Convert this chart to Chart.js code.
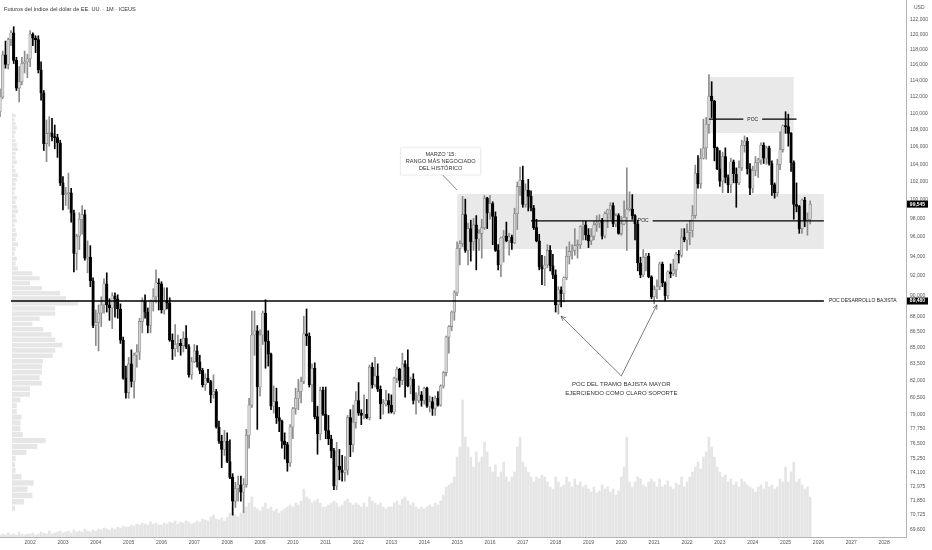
<!DOCTYPE html>
<html lang="es">
<head>
<meta charset="UTF-8">
<title>Futuros del índice del dólar de EE. UU. - 1M - ICEUS</title>
<script src="https://cdn.jsdelivr.net/npm/chart.js@4.4.0/dist/chart.umd.min.js"></script>
<style>
  html, body { margin: 0; padding: 0; background: #fff; }
  #wrap { width: 932px; height: 550px; }
</style>
</head>
<body>
<div id="wrap"><canvas id="dxy" width="932" height="550"></canvas></div>
<script>
// eje de meses: 2001-02 .. 2028-09 (el gráfico deja hueco a la derecha)
const months = [];
for (let yr = 2001; yr <= 2028; yr++) {
  for (let m = 1; m <= 12; m++) {
    if (yr === 2001 && m < 2) continue;
    if (yr === 2028 && m > 9) break;
    months.push(yr + '-' + String(m).padStart(2, '0'));
  }
}

// velas mensuales (feb 2001 - oct 2025)
const open = [
  110.2,112.0,117.3,116.1,119.3,120.2,116.6,113.1,113.9,116.2,116.4,
  116.8,120.0,119.5,119.3,115.4,112.5,106.4,107.6,107.6,107.2,107.1,106.5,
  101.9,100.6,100.7,100.8,98.6,94.3,96.1,97.9,98.4,93.8,93.9,91.5,
  87.1,87.4,88.3,89.1,91.2,89.1,88.8,90.0,89.7,88.7,85.7,82.2,
  80.9,83.5,81.9,84.3,84.6,87.5,89.5,88.4,87.1,89.4,89.9,91.3,
  91.2,88.6,89.5,89.3,85.7,84.9,85.3,85.4,85.2,85.9,85.1,82.5,
  83.7,84.7,83.7,82.9,81.6,82.2,81.9,80.7,81.0,77.9,76.7,76.0,
  76.7,75.0,73.7,71.8,72.8,73.1,72.5,73.1,77.2,79.8,86.2,86.6,
  81.4,86.2,88.3,85.6,84.4,79.7,80.1,78.7,78.4,76.7,76.4,74.9,
  77.9,79.5,80.4,81.0,81.9,86.3,86.1,81.6,83.1,78.8,77.3,81.1,
  79.0,77.6,76.9,75.9,73.0,74.6,74.3,74.1,74.3,78.7,76.4,78.3,
  80.2,79.1,78.9,79.0,78.7,83.2,81.6,82.4,81.2,79.9,79.9,80.2,
  79.8,79.2,82.2,83.0,82.0,83.5,83.2,81.5,82.1,80.2,80.2,80.7,
  80.2,81.3,79.7,80.1,79.5,80.4,79.8,81.5,82.7,86.0,87.0,88.4,
  90.3,94.8,95.3,98.4,94.6,96.9,95.5,97.3,95.8,96.4,97.0,100.2,
  98.6,99.6,98.2,94.6,93.1,95.9,96.1,95.6,96.0,95.4,98.5,101.5,
  102.2,99.5,101.1,100.4,99.1,97.0,95.6,92.9,92.7,93.1,94.6,93.0,
  92.1,89.1,90.6,90.2,91.8,94.0,94.5,94.6,95.1,95.2,97.1,97.3,
  96.2,95.6,96.1,97.3,97.5,97.8,96.1,98.5,98.9,99.4,97.4,98.3,
  96.4,97.4,98.1,99.0,99.0,98.3,97.4,93.3,92.1,93.9,94.0,91.9,
  89.9,90.6,90.9,93.2,91.3,90.0,92.4,92.2,92.6,94.2,94.1,96.0,
  95.7,96.5,96.7,98.3,103.0,101.8,104.7,105.9,108.7,112.1,111.5,105.9,
  103.5,102.1,104.9,102.5,101.7,104.3,102.9,101.9,103.6,106.2,106.7,103.5,
  101.3,103.3,104.2,104.5,106.2,104.7,105.9,104.1,101.7,100.8,104.0,105.7,
  108.5,108.4,107.6,104.2,99.5,99.3,96.9,100.0,97.8,97.9
];
const high = [
  113.0,117.8,119.1,119.5,120.5,121.0,117.0,115.8,117.0,117.8,117.4,
  120.5,120.2,119.8,119.8,116.4,112.8,109.2,109.6,109.4,108.6,107.5,106.8,
  102.6,101.4,103.0,101.3,98.9,96.3,98.6,99.4,98.9,95.6,95.1,91.8,
  88.6,89.1,89.9,91.7,92.3,89.7,90.3,90.3,90.1,89.2,86.0,83.3,
  84.1,84.8,84.5,85.3,87.8,89.8,90.1,88.8,89.6,90.7,92.6,91.7,
  91.4,90.8,90.8,89.8,86.3,87.2,86.2,85.8,86.5,87.1,85.3,84.1,
  85.3,85.2,84.3,83.1,82.6,83.0,82.0,82.5,81.2,78.4,77.2,77.6,
  77.4,76.8,74.0,73.3,73.8,73.8,73.6,77.7,80.4,88.5,88.5,87.1,
  86.7,88.5,89.6,86.6,84.5,81.5,81.3,79.6,78.5,77.4,76.6,78.1,
  79.6,81.3,82.1,82.3,88.0,88.7,86.4,83.5,83.6,79.7,81.4,81.4,
  81.4,78.9,77.2,76.1,76.6,76.0,75.5,75.4,78.9,79.4,79.8,81.0,
  81.8,79.4,80.7,80.3,83.4,83.6,84.1,83.5,81.5,80.3,81.1,80.8,
  80.7,82.3,83.2,83.1,84.5,83.8,84.8,82.3,82.6,80.9,81.5,81.0,
  81.4,81.4,80.6,80.5,80.6,81.0,81.6,82.8,86.1,87.1,88.5,90.5,
  95.5,95.6,100.4,100.1,97.5,97.8,98.0,98.3,96.8,97.9,100.5,100.3,
  100.5,99.8,98.7,95.2,96.0,96.7,97.6,96.4,96.2,99.1,102.0,103.7,
  103.8,101.8,102.3,101.0,99.4,97.9,96.3,94.1,94.0,95.2,95.1,94.2,
  92.6,90.9,90.9,91.9,95.0,95.5,95.2,96.9,95.7,97.2,97.7,97.7,
  96.9,96.9,97.7,98.3,98.4,98.0,98.7,99.0,99.7,99.7,98.5,98.5,
  98.2,99.9,103.6,100.9,100.6,98.4,97.8,93.9,94.7,94.3,94.3,92.0,
  91.0,91.6,93.4,93.4,91.4,92.5,93.2,93.7,94.4,94.6,96.9,96.9,
  97.4,97.8,99.4,103.9,105.0,105.8,109.3,109.5,114.8,113.9,111.6,106.0,
  105.6,105.4,105.9,102.8,104.7,104.5,103.6,104.4,106.8,107.3,107.1,104.1,
  103.8,104.9,104.7,106.5,106.5,106.1,106.1,104.4,101.9,104.6,107.8,108.6,
  110.2,109.9,107.7,104.4,101.9,99.4,100.1,100.3,98.6,99.9
];
const low = [
  109.6,111.8,115.6,115.5,118.5,116.2,112.8,111.4,113.5,115.0,114.4,
  115.8,118.5,117.6,115.0,111.6,105.6,104.3,106.1,106.7,105.8,104.8,101.6,
  98.9,99.4,99.0,97.6,92.4,92.6,94.7,96.3,93.6,92.3,90.9,86.9,
  85.2,84.7,87.0,88.3,88.4,87.6,86.8,87.9,87.8,85.4,82.1,80.4,
  80.4,81.4,80.4,83.2,83.9,86.4,87.8,86.4,86.4,88.5,89.3,88.6,
  88.3,88.2,88.7,85.6,83.9,84.2,84.6,84.3,84.6,84.9,82.3,82.1,
  83.6,83.2,82.6,81.4,81.1,81.8,80.0,80.4,77.8,76.5,74.5,75.5,
  74.9,73.6,70.7,71.3,71.8,71.8,70.9,72.9,76.1,79.6,84.3,77.7,
  80.6,85.3,83.1,83.3,79.4,79.1,78.2,77.5,76.1,75.2,74.2,74.6,
  76.9,79.0,79.4,80.0,81.7,85.2,81.4,80.1,78.6,75.6,76.8,78.9,
  76.9,76.4,75.3,72.7,72.7,73.5,73.4,73.4,73.9,75.4,75.8,77.8,
  78.9,78.1,78.6,78.6,78.5,81.3,81.4,81.0,78.6,79.0,79.7,79.1,
  79.1,79.0,81.8,81.4,81.6,80.5,81.4,80.8,79.9,79.0,80.0,79.7,
  79.9,79.6,79.2,78.9,78.9,79.7,79.7,81.3,82.4,84.5,86.6,87.6,
  90.0,93.1,95.0,94.4,93.1,93.5,94.6,92.6,94.6,93.8,96.8,96.9,
  97.9,95.2,94.5,92.6,91.9,93.4,95.5,94.1,94.7,95.3,96.8,100.5,
  99.2,99.2,98.8,98.8,96.8,95.5,92.6,91.1,91.0,92.8,92.5,91.7,
  88.4,88.2,88.9,89.4,91.6,93.2,93.7,94.1,93.8,94.8,95.7,95.7,
  94.9,95.2,95.7,96.6,97.0,95.8,95.9,97.0,97.9,97.1,97.1,96.3,
  96.2,97.3,94.6,98.8,97.9,95.7,92.5,91.8,91.9,92.5,91.8,89.7,
  89.2,89.7,90.6,90.9,89.5,89.7,91.8,92.0,91.9,93.3,93.9,95.5,
  94.6,95.2,96.0,98.0,101.3,101.3,104.6,104.6,107.6,109.5,104.4,103.4,
  101.5,100.8,101.9,100.8,100.8,101.9,99.2,101.7,103.3,105.4,102.9,100.6,
  100.8,102.7,102.5,104.0,104.1,104.0,103.9,100.5,100.2,100.4,103.4,105.4,
  107.6,106.1,103.2,97.9,98.7,96.4,96.4,97.1,96.2,97.4
];
const close = [
  112.0,117.3,116.1,119.3,120.2,116.6,113.1,113.9,116.2,116.4,116.8,
  120.0,119.5,119.3,115.4,112.5,106.4,107.6,107.6,107.2,107.1,106.5,101.9,
  100.6,100.7,100.8,98.6,94.3,96.1,97.9,98.4,93.8,93.9,91.5,87.1,
  87.4,88.3,89.1,91.2,89.1,88.8,90.0,89.7,88.7,85.7,82.2,80.9,
  83.5,81.9,84.3,84.6,87.5,89.5,88.4,87.1,89.4,89.9,91.3,91.2,
  88.6,89.5,89.3,85.7,84.9,85.3,85.4,85.2,85.9,85.1,82.5,83.7,
  84.7,83.7,82.9,81.6,82.2,81.9,80.7,81.0,77.9,76.7,76.0,76.7,
  75.0,73.7,71.8,72.8,73.1,72.5,73.1,77.2,79.8,86.2,86.6,81.4,
  86.2,88.3,85.6,84.4,79.7,80.1,78.7,78.4,76.7,76.4,74.9,77.9,
  79.5,80.4,81.0,81.9,86.3,86.1,81.6,83.1,78.8,77.3,81.1,79.0,
  77.6,76.9,75.9,73.0,74.6,74.3,74.1,74.3,78.7,76.4,78.3,80.2,
  79.1,78.9,79.0,78.7,83.2,81.6,82.4,81.2,79.9,79.9,80.2,79.8,
  79.2,82.2,83.0,82.0,83.5,83.2,81.5,82.1,80.2,80.2,80.7,80.2,
  81.3,79.7,80.1,79.5,80.4,79.8,81.5,82.7,86.0,87.0,88.4,90.3,
  94.8,95.3,98.4,94.6,96.9,95.5,97.3,95.8,96.4,97.0,100.2,98.6,
  99.6,98.2,94.6,93.1,95.9,96.1,95.6,96.0,95.4,98.5,101.5,102.2,
  99.5,101.1,100.4,99.1,97.0,95.6,92.9,92.7,93.1,94.6,93.0,92.1,
  89.1,90.6,90.2,91.8,94.0,94.5,94.6,95.1,95.2,97.1,97.3,96.2,
  95.6,96.1,97.3,97.5,97.8,96.1,98.5,98.9,99.4,97.4,98.3,96.4,
  97.4,98.1,99.0,99.0,98.3,97.4,93.3,92.1,93.9,94.0,91.9,89.9,
  90.6,90.9,93.2,91.3,90.0,92.4,92.2,92.6,94.2,94.1,96.0,95.7,
  96.5,96.7,98.3,103.0,101.8,104.7,105.9,108.7,112.1,111.5,105.9,103.5,
  102.1,104.9,102.5,101.7,104.3,102.9,101.9,103.6,106.2,106.7,103.5,101.3,
  103.3,104.2,104.5,106.2,104.7,105.9,104.1,101.7,100.8,104.0,105.7,108.5,
  108.4,107.6,104.2,99.5,99.3,96.9,100.0,97.8,97.9,99.545
];
// volumen mensual (miles de contratos, aprox.)
const volume = [
  4,6,4,8,4,6,4,10,6,4,6,
  6,8,4,6,10,8,6,12,6,8,10,12,
  8,10,12,8,14,10,12,10,16,12,10,14,
  12,16,14,18,16,14,18,16,20,18,22,20,
  20,24,22,26,24,28,26,24,30,26,28,24,
  24,28,26,30,28,32,26,30,28,32,30,26,
  28,32,30,36,34,32,40,44,36,34,38,32,
  40,48,60,44,40,48,52,60,68,80,60,56,
  52,60,68,56,60,52,56,48,52,56,60,64,
  60,68,64,72,96,80,76,68,72,76,68,60,
  60,64,68,72,68,60,64,72,76,68,64,68,
  64,60,68,60,80,72,68,64,68,60,56,60,
  60,68,72,64,76,80,72,64,68,60,56,60,
  56,60,64,60,68,64,72,84,100,104,108,120,
  160,180,274,200,180,160,140,170,150,160,190,170,
  140,130,144,120,130,150,120,110,120,130,180,200,
  150,140,130,120,110,120,116,124,120,110,100,96,
  120,110,100,104,120,110,100,116,104,110,100,104,
  96,90,100,88,92,104,96,100,90,96,84,92,
  120,140,200,110,100,110,120,116,104,100,110,116,
  110,100,116,100,104,112,100,96,108,104,120,100,
  110,120,130,140,150,136,160,170,200,180,160,140,
  130,120,124,110,116,104,110,100,116,110,104,100,
  96,90,100,104,96,110,100,104,96,100,116,110,
  140,110,130,150,110,116,104,96,100,80
];

// perfil de volumen (precio inferior de cada fila, paso 0,5)
const profileStep = 0.5;
const profileLevels = [
  71.0,71.5,72.0,72.5,73.0,73.5,74.0,74.5,75.0,75.5,76.0,76.5,77.0,77.5,78.0,78.5,79.0,79.5,
  80.0,80.5,81.0,81.5,82.0,82.5,83.0,83.5,84.0,84.5,85.0,85.5,86.0,86.5,87.0,87.5,88.0,88.5,
  89.0,89.5,90.0,90.5,91.0,91.5,92.0,92.5,93.0,93.5,94.0,94.5,95.0,95.5,96.0,96.5,97.0,97.5,
  98.0,98.5,99.0,99.5,100.0,100.5,101.0,101.5,102.0,102.5,103.0,103.5,104.0,104.5,105.0,105.5,
  106.0,106.5,107.0,107.5,108.0,108.5,109.0,109.5
];
const profileVolume = [
  2.5,10,17,13,18,8,3,2.5,3,12,21,28,9,7,7,8,4,4,
  7,15,15,25,23,25,25,26,34,36,42,36,33,26,17,23,36,36,
  55,45,40,25,15,23,17,5,3,4,2,3,5,3,4,3,2,4,
  3,5,4,3,4,2,3,3,4,5,3,2,4,3,3,5,
  4,3,2,3,4,3,2,3
];

const priceTicks = [122,120,118,116,114,112,110,108,106,104,102,100,98,96,94,92,90,88,86.5,85,83.5,82,80.5,79,77.75,76.5,75.25,74.1,72.975,71.85,70.725,69.6];

// dibujos del autor
const boxes = [
  { from: '2015-01', to: '2026-03', top: 100.66, bottom: 94.75 },
  { from: '2022-09', to: '2025-04', top: 114.5, bottom: 107.65 }
];
const pocLines = [
  { price: 89.48, from: '2001-06', to: '2026-03', width: 1.4, label: 'POC DESARROLLO BAJISTA' },
  { price: 97.72, from: '2017-04', to: '2026-03', width: 1.3, label: 'POC', labelAt: '2020-09' },
  { price: 109.3, from: '2022-09', to: '2025-05', width: 1.3, label: 'POC', labelAt: '2024-01' }
];
const priceTags = [ { price: 99.545, text: '99,545' }, { price: 89.48, text: '89,480' } ];
const noteMarzo = { at: '2014-07', price: 104.33, lines: ["MARZO '15:", 'RANGO MÁS NEGOCIADO', 'DEL HISTÓRICO'], target: '2015-01', targetPrice: 101.1 };
const noteSoporte = { at: '2020-01', price: 81.6, lines: ['POC DEL TRAMO BAJISTA MAYOR', 'EJERCIENDO COMO CLARO SOPORTE'],
  from: '2020-01', fromPrice: 82.4, targets: [ ['2018-03', 88.0], ['2021-02', 89.1] ] };

const FONT = '"Liberation Sans", Arial, sans-serif';
const up = close.map((c, i) => c >= open[i]);

function mx(scale, m) { return scale.getPixelForValue(months.indexOf(m)); }

function arrow(ctx, x0, y0, x1, y1) {
  ctx.beginPath();
  ctx.moveTo(x0, y0);
  ctx.lineTo(x1, y1);
  const a = Math.atan2(y1 - y0, x1 - x0), h = 5;
  ctx.moveTo(x1 - h * Math.cos(a - 0.45), y1 - h * Math.sin(a - 0.45));
  ctx.lineTo(x1, y1);
  ctx.lineTo(x1 - h * Math.cos(a + 0.45), y1 - h * Math.sin(a + 0.45));
  ctx.stroke();
}

const overlay = {
  id: 'overlay',
  beforeDatasetsDraw(chart) {
    const { ctx, scales: { x, y, xp } } = chart;
    ctx.save();
    ctx.fillStyle = '#e9e9e9';
    boxes.forEach(b => {
      const x0 = mx(x, b.from), x1 = mx(x, b.to);
      const y0 = y.getPixelForValue(b.top), y1 = y.getPixelForValue(b.bottom);
      ctx.fillRect(x0, y0, x1 - x0, y1 - y0);
    });
    ctx.fillStyle = '#e6e6e6';
    profileLevels.forEach((p, i) => {
      const t = y.getPixelForValue(p + profileStep), bt = y.getPixelForValue(p);
      const x0 = xp.getPixelForValue(0), x1 = xp.getPixelForValue(profileVolume[i]);
      ctx.fillRect(x0, t + 0.4, x1 - x0, bt - t - 0.8);
    });
    ctx.restore();
  },
  afterDatasetsDraw(chart) {
    const { ctx, scales: { x, y } } = chart;
    ctx.save();
    // líneas POC
    ctx.font = '5px ' + FONT;
    ctx.textBaseline = 'middle';
    pocLines.forEach(l => {
      const x0 = mx(x, l.from), x1 = mx(x, l.to), yy = y.getPixelForValue(l.price);
      ctx.strokeStyle = '#000';
      ctx.lineWidth = l.width;
      ctx.fillStyle = '#222';
      if (l.labelAt) {
        const cx = mx(x, l.labelAt), w = ctx.measureText(l.label).width + 8;
        ctx.beginPath();
        ctx.moveTo(x0, yy); ctx.lineTo(cx - w / 2, yy);
        ctx.moveTo(cx + w / 2, yy); ctx.lineTo(x1, yy);
        ctx.stroke();
        ctx.textAlign = 'center';
        ctx.fillText(l.label, cx, yy);
      } else {
        ctx.beginPath();
        ctx.moveTo(x0, yy); ctx.lineTo(x1, yy);
        ctx.stroke();
        ctx.textAlign = 'left';
        ctx.fillText(l.label, x1 + 5, yy);
      }
    });

    // nota marzo 2015
    ctx.font = '5.6px ' + FONT;
    const cx = mx(x, noteMarzo.at), cy = y.getPixelForValue(noteMarzo.price);
    const lh = 7;
    const bw = Math.max(...noteMarzo.lines.map(s => ctx.measureText(s).width)) + 10;
    const bh = lh * noteMarzo.lines.length + 6;
    ctx.shadowColor = 'rgba(0,0,0,0.12)';
    ctx.shadowBlur = 3;
    ctx.fillStyle = '#fff';
    ctx.fillRect(cx - bw / 2, cy - bh / 2, bw, bh);
    ctx.shadowBlur = 0;
    ctx.strokeStyle = '#e0e0e0';
    ctx.lineWidth = 0.5;
    ctx.strokeRect(cx - bw / 2, cy - bh / 2, bw, bh);
    ctx.fillStyle = '#333';
    ctx.textAlign = 'center';
    noteMarzo.lines.forEach((s, i) => ctx.fillText(s, cx, cy - bh / 2 + 3 + lh * (i + 0.5)));
    ctx.strokeStyle = '#555';
    ctx.lineWidth = 0.7;
    ctx.beginPath();
    ctx.moveTo(cx + 2, cy + bh / 2);
    ctx.lineTo(mx(x, noteMarzo.target), y.getPixelForValue(noteMarzo.targetPrice));
    ctx.stroke();

    // nota soporte
    ctx.font = '6px ' + FONT;
    ctx.fillStyle = '#333';
    const sx = mx(x, noteSoporte.at), sy = y.getPixelForValue(noteSoporte.price);
    noteSoporte.lines.forEach((s, i) => ctx.fillText(s, sx, sy + i * 8.5));
    const ax = mx(x, noteSoporte.from), ay = y.getPixelForValue(noteSoporte.fromPrice);
    ctx.strokeStyle = '#444';
    ctx.lineWidth = 0.7;
    noteSoporte.targets.forEach(([m, p]) => arrow(ctx, ax, ay, mx(x, m), y.getPixelForValue(p)));

    ctx.restore();
  },
  afterDraw(chart) {
    const { ctx, scales: { y } } = chart;
    ctx.save();
    // etiquetas de precio en el eje
    ctx.font = 'bold 5px ' + FONT;
    ctx.textAlign = 'center';
    ctx.textBaseline = 'middle';
    priceTags.forEach(t => {
      const yy = y.getPixelForValue(t.price);
      ctx.fillStyle = '#000';
      ctx.fillRect(y.left + 1, yy - 3.5, 21, 7);
      ctx.fillStyle = '#fff';
      ctx.fillText(t.text, y.left + 11.5, yy);
    });
    // título y moneda
    ctx.font = '5.6px ' + FONT;
    ctx.fillStyle = '#333';
    ctx.textAlign = 'left';
    ctx.fillText('Futuros del índice del dólar de EE. UU. · 1M · ICEUS', 4, 9);
    ctx.fillStyle = '#555';
    ctx.font = '5px ' + FONT;
    ctx.fillText('USD', y.left + 8, 8);
    ctx.restore();
  }
};

const noPad = s => { s.paddingTop = 0; s.paddingBottom = 0; s.paddingLeft = 0; s.paddingRight = 0; };

new Chart(document.getElementById('dxy'), {
  type: 'bar',
  data: {
    labels: months,
    datasets: [
      {
        label: 'Volumen', data: volume, yAxisID: 'yv',
        backgroundColor: '#e5e5e5', barThickness: 2, grouped: false, order: 3
      },
      {
        label: 'Mecha', data: low.map((l, i) => [l, high[i]]), yAxisID: 'y',
        backgroundColor: up.map(u => u ? '#8c8c8c' : '#000'), barThickness: 1, grouped: false, order: 2
      },
      {
        label: 'Cuerpo', data: open.map((o, i) => [o, close[i]]), yAxisID: 'y',
        backgroundColor: up.map(u => u ? '#d6d6d6' : '#000'),
        borderColor: up.map(u => u ? '#7d7d7d' : '#000'),
        borderWidth: 0.6, borderSkipped: false, minBarLength: 1,
        barThickness: 2.6, grouped: false, order: 1
      }
    ]
  },
  options: {
    responsive: false,
    animation: false,
    devicePixelRatio: 1,
    layout: { padding: 0 },
    plugins: { legend: { display: false }, tooltip: { enabled: false } },
    scales: {
      x: {
        type: 'category', offset: false,
        grid: { display: false, drawTicks: false },
        border: { color: '#b5b5b5' },
        ticks: {
          autoSkip: false, maxRotation: 0, padding: 3, color: '#555',
          font: { size: 5, family: FONT },
          callback: (v, i) => months[i].endsWith('-01') ? months[i].slice(0, 4) : null
        },
        afterFit: s => { noPad(s); s.height = 13; }
      },
      y: {
        type: 'logarithmic', position: 'right', min: 69.02, max: 124.61,
        grid: { display: false, drawTicks: false },
        border: { color: '#b5b5b5' },
        ticks: {
          autoSkip: false, padding: 4, color: '#555',
          font: { size: 5, family: FONT },
          callback: v => Number(v).toFixed(3).replace('.', ',')
        },
        afterBuildTicks: s => { s.ticks = priceTicks.map(v => ({ value: v })); },
        afterFit: s => { noPad(s); s.width = 26; }
      },
      yv: { type: 'linear', display: false, min: 0, max: 1074 },
      xp: {
        type: 'linear', axis: 'x', position: 'top', offset: false, bounds: 'data', min: -10, max: 745,
        grid: { display: false, drawTicks: false }, border: { display: false },
        ticks: { display: false },
        afterFit: s => { noPad(s); s.height = 0; }
      }
    }
  },
  plugins: [overlay]
});
</script>
</body>
</html>
